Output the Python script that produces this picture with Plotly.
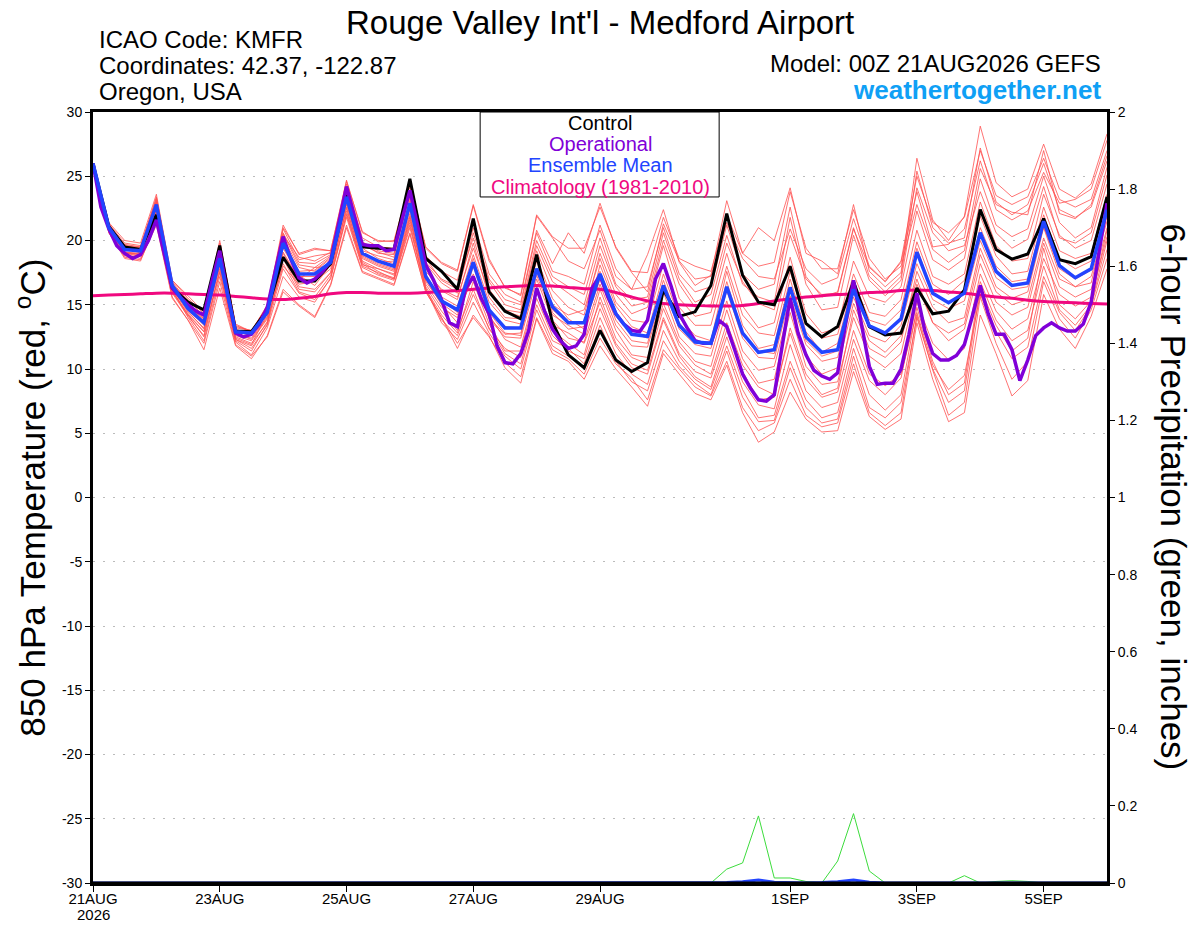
import pandas as pd
import plotly.graph_objects as go

# 6-hourly GEFS output, 21AUG2026 00Z .. 06SEP2026 00Z
times = pd.date_range("2026-08-21 00:00", periods=65, freq="6h")
# operational run is plotted every 3 hours
times_op = pd.date_range("2026-08-21 00:00", periods=129, freq="3h")

control = [
    26.0, 21.1, 19.5, 19.3, 22.0, 16.3, 15.2, 14.6,
    19.6, 12.95, 12.9, 14.6, 18.7, 16.85, 16.85, 18.2,
    23.6, 19.5, 19.4, 19.3, 24.8, 18.6, 17.6, 16.2,
    21.7, 16.0, 14.5, 13.9, 18.9, 13.6, 11.1, 10.1,
    13.0, 10.7, 9.8, 10.5, 16.15, 14.1, 14.45, 16.5,
    22.1, 17.3, 15.2, 15.0, 18.0, 13.55, 12.5, 13.3,
    16.8, 13.3, 12.65, 12.8, 16.3, 14.3, 14.5, 16.15,
    22.4, 19.3, 18.55, 18.95, 21.7, 18.5, 18.2, 18.75,
    23.4,
]

ens_mean = [
    26.0, 21.0, 19.3, 19.2, 22.8, 16.5, 14.7, 13.6,
    18.6, 12.9, 12.8, 14.4, 19.8, 17.4, 17.4, 18.3,
    23.4, 19.0, 18.4, 18.0, 22.9, 17.2, 15.3, 14.6,
    18.3, 14.6, 13.2, 13.2, 17.8, 14.85, 13.6, 13.6,
    17.4, 14.3, 12.7, 12.55, 16.5, 13.4, 12.1, 12.0,
    16.4, 12.8, 11.3, 11.5, 16.35, 12.5, 11.3, 11.5,
    16.2, 13.35, 12.8, 13.9, 19.1, 15.9, 15.15, 15.9,
    20.6, 17.6, 16.5, 16.7, 21.5, 18.05, 17.1, 17.8,
    22.4,
]

operational = [
    26.0, 22.6, 20.9, 19.6, 19.0, 18.6, 18.9, 20.0,
    21.6, 19.0, 16.3, 15.6, 15.0, 14.5, 14.2, 16.8,
    19.2, 15.8, 12.8, 12.5, 12.7, 13.5, 14.8, 17.6,
    20.3, 18.5, 17.1, 16.7, 17.0, 17.6, 18.4, 21.3,
    24.2, 21.9, 19.7, 19.6, 19.6, 19.2, 19.3, 21.6,
    23.9, 21.1, 18.1, 16.9, 15.4, 13.6, 13.3, 16.2,
    17.2, 15.5, 14.3, 11.8, 10.5, 10.4, 11.2, 13.0,
    16.3, 14.5, 13.1, 12.2, 11.6, 11.8, 12.7, 16.3,
    17.3, 15.6, 14.3, 13.5, 13.0, 12.9, 13.8, 17.0,
    18.2, 16.4, 14.3, 13.2, 12.2, 12.0, 12.0, 13.8,
    13.3, 11.5, 9.6, 8.5, 7.6, 7.5, 8.0, 11.8,
    15.5, 12.8, 11.1, 9.9, 9.45, 9.2, 9.7, 13.5,
    16.9, 13.5, 10.2, 8.8, 8.9, 8.9, 10.0, 12.7,
    15.9, 13.0, 11.2, 10.7, 10.7, 11.05, 11.9, 14.1,
    16.5, 14.3, 12.7, 12.7, 11.5, 9.1, 10.7, 12.6,
    13.2, 13.6, 13.2, 12.95, 12.95, 13.5, 15.2, 19.1,
    22.9,
]

climatology = [
    15.7, 15.75, 15.8, 15.85, 15.9, 15.9, 15.85, 15.8,
    15.75, 15.65, 15.55, 15.45, 15.4, 15.5, 15.65, 15.85,
    15.95, 15.95, 15.9, 15.9, 15.9, 15.95, 16.05, 16.1,
    16.2, 16.3, 16.4, 16.45, 16.5, 16.45, 16.35, 16.25,
    16.2, 15.95, 15.6, 15.3, 15.1, 15.0, 14.95, 14.9,
    14.9, 14.95, 15.1, 15.3, 15.45, 15.6, 15.7, 15.8,
    15.85, 15.95, 16.0, 16.1, 16.15, 16.1, 16.0, 15.9,
    15.75, 15.6, 15.5, 15.35, 15.25, 15.2, 15.15, 15.1,
    15.05,
]

members = [
    [26.0, 21.3, 19.8, 19.6, 23.2, 16.8, 15.2, 14.0, 19.6, 13.3, 13.0, 14.8, 20.9, 18.5, 18.8, 19.0,
     24.4, 20.2, 19.5, 19.4, 24.2, 18.8, 17.6, 16.9, 21.5, 17.4, 15.8, 15.2, 20.8, 18.2, 20.6, 19.0,
     22.9, 19.4, 17.5, 16.0, 21.3, 18.4, 17.0, 17.2, 21.4, 18.6, 17.2, 17.0, 20.9, 17.8, 16.6, 17.1,
     21.7, 18.0, 16.8, 18.3, 23.8, 19.5, 19.7, 20.9, 26.2, 22.4, 21.6, 22.3, 25.3, 22.9, 23.2, 24.0, 27.8],
    [26.0, 20.8, 18.9, 18.6, 22.0, 15.9, 14.1, 12.6, 17.8, 12.2, 11.4, 13.5, 18.6, 16.2, 16.0, 17.5,
     22.6, 18.3, 17.6, 17.0, 21.8, 16.4, 14.5, 13.0, 16.2, 13.1, 11.6, 10.9, 15.5, 12.6, 11.4, 10.8,
     14.7, 11.8, 10.1, 9.6, 13.8, 11.0, 9.4, 8.6, 12.5, 9.0, 7.2, 6.9, 11.9, 8.3, 7.0, 7.4,
     12.3, 9.1, 8.0, 9.3, 15.2, 12.0, 10.7, 11.6, 17.4, 14.5, 13.1, 13.9, 18.6, 15.8, 14.9, 15.6, 20.3],
    [26.0, 21.1, 19.4, 19.1, 23.0, 16.2, 14.4, 13.2, 18.9, 12.7, 12.4, 14.1, 20.2, 17.9, 17.6, 18.6,
     23.8, 19.4, 18.6, 18.2, 23.3, 17.8, 16.1, 15.4, 19.8, 15.6, 14.0, 13.9, 19.2, 16.1, 14.8, 14.2,
     19.0, 15.8, 14.3, 14.8, 19.6, 15.5, 14.1, 14.4, 19.0, 14.9, 13.2, 13.6, 18.7, 14.3, 12.8, 13.2,
     18.4, 15.6, 15.2, 16.4, 22.3, 18.5, 17.7, 18.6, 24.8, 21.2, 20.3, 20.9, 25.0, 21.4, 20.2, 21.0, 25.7],
    [26.0, 20.9, 19.0, 19.0, 22.4, 16.6, 14.9, 13.9, 18.3, 13.0, 12.9, 14.6, 19.1, 17.0, 17.9, 18.0,
     22.8, 18.6, 18.0, 17.6, 22.1, 16.6, 14.8, 14.0, 17.4, 13.9, 12.5, 12.4, 17.0, 13.8, 12.4, 12.1,
     16.2, 13.0, 11.1, 10.9, 15.1, 12.1, 10.6, 10.2, 14.6, 10.8, 8.9, 9.2, 14.4, 10.2, 8.8, 9.0,
     14.0, 11.0, 10.1, 11.2, 16.6, 13.6, 12.8, 13.5, 18.9, 16.0, 15.0, 15.4, 20.2, 17.0, 16.4, 17.2, 21.5],
    [26.0, 20.6, 18.6, 18.4, 21.4, 15.6, 13.8, 11.5, 16.3, 11.8, 10.8, 12.6, 16.2, 15.0, 14.1, 16.6,
     21.2, 17.6, 17.1, 16.6, 20.6, 16.0, 14.0, 11.6, 14.2, 12.6, 10.1, 8.9, 13.9, 11.2, 10.6, 9.2,
     11.8, 10.0, 8.6, 7.1, 11.2, 9.6, 8.1, 7.6, 10.3, 6.6, 4.3, 5.1, 8.2, 6.1, 5.1, 5.2,
     9.8, 6.3, 5.3, 6.1, 13.6, 9.2, 5.9, 6.6, 14.2, 11.2, 7.9, 9.1, 15.8, 13.1, 11.6, 14.1, 17.8],
    [26.0, 21.4, 20.0, 19.8, 23.6, 16.9, 15.7, 14.4, 20.0, 13.4, 12.9, 15.0, 21.2, 18.9, 19.3, 19.2,
     24.7, 20.6, 20.0, 19.9, 24.4, 19.4, 18.2, 17.6, 22.7, 18.4, 16.4, 15.7, 21.9, 20.2, 18.4, 17.8,
     20.8, 17.2, 16.2, 18.9, 22.4, 18.3, 16.5, 17.3, 23.1, 19.0, 21.0, 20.0, 24.1, 19.0, 18.4, 17.4,
     22.8, 17.6, 16.4, 17.5, 26.4, 21.6, 20.0, 21.9, 28.9, 24.5, 23.4, 24.0, 27.5, 24.0, 23.3, 24.4, 28.3],
    [26.0, 21.0, 19.2, 19.3, 22.6, 16.4, 14.6, 13.4, 18.0, 12.6, 12.2, 13.9, 18.0, 16.6, 16.8, 17.8,
     22.3, 18.1, 17.8, 17.3, 21.6, 16.9, 15.6, 14.9, 18.9, 15.2, 13.8, 13.5, 18.6, 15.5, 13.9, 13.1,
     18.1, 14.9, 13.3, 12.8, 17.4, 14.0, 12.6, 12.2, 17.6, 13.4, 11.6, 11.9, 17.0, 12.9, 11.3, 12.0,
     16.9, 13.8, 13.4, 14.6, 19.9, 16.6, 15.8, 16.9, 21.9, 18.8, 17.4, 17.6, 22.6, 19.2, 18.6, 19.0, 23.6],
    [26.0, 21.2, 19.5, 19.0, 22.9, 16.0, 14.3, 12.9, 18.6, 12.4, 11.9, 14.3, 19.4, 17.3, 16.5, 18.1,
     23.1, 19.0, 18.3, 18.4, 22.8, 17.0, 15.0, 13.6, 18.0, 14.2, 12.3, 11.7, 16.4, 13.0, 12.0, 11.1,
     15.6, 12.4, 10.9, 10.4, 14.7, 11.8, 10.3, 9.6, 13.6, 10.3, 8.6, 8.0, 12.8, 9.2, 7.8, 8.2,
     13.0, 9.6, 8.7, 9.6, 14.4, 10.3, 8.4, 9.5, 15.8, 12.9, 10.8, 11.7, 17.2, 14.4, 13.0, 14.9, 19.3],
    [26.0, 21.2, 19.6, 19.4, 23.4, 16.7, 15.0, 14.2, 19.0, 13.1, 12.7, 14.4, 20.5, 18.1, 17.9, 18.8,
     24.1, 19.6, 19.1, 18.7, 23.7, 18.2, 16.7, 15.9, 20.6, 16.8, 15.0, 14.6, 20.0, 17.2, 16.4, 15.8,
     20.2, 16.6, 15.4, 15.6, 20.6, 17.0, 15.2, 15.8, 20.4, 16.6, 15.6, 15.2, 21.8, 16.6, 14.6, 14.8,
     20.4, 16.9, 15.7, 16.9, 24.1, 20.6, 19.2, 19.6, 23.8, 20.6, 19.4, 20.1, 24.2, 20.2, 19.8, 20.6, 25.1],
    [26.0, 20.7, 18.8, 18.8, 21.8, 16.2, 14.0, 12.2, 17.2, 12.1, 11.1, 13.2, 17.2, 15.6, 15.2, 17.1,
     21.8, 17.9, 17.3, 16.9, 21.0, 16.2, 13.6, 12.3, 15.2, 12.8, 11.0, 10.0, 14.6, 11.8, 11.0, 10.0,
     13.4, 10.6, 9.0, 8.3, 12.2, 10.2, 8.9, 8.0, 11.4, 7.8, 5.9, 6.0, 10.1, 7.0, 5.8, 6.1,
     11.0, 7.0, 6.2, 7.4, 14.0, 10.0, 7.4, 8.3, 16.3, 13.4, 11.4, 12.4, 19.4, 15.0, 13.9, 15.3, 20.8],
    [26.0, 21.0, 19.1, 18.9, 22.7, 16.5, 14.8, 13.7, 18.4, 12.9, 12.6, 14.3, 19.6, 17.2, 17.2, 18.4,
     23.2, 18.8, 18.2, 17.8, 22.6, 17.4, 15.3, 14.5, 18.6, 14.6, 13.3, 13.2, 17.6, 14.4, 13.1, 13.3,
     17.0, 13.8, 12.2, 12.0, 16.4, 13.1, 11.9, 11.6, 16.1, 12.4, 10.9, 10.8, 15.7, 11.9, 10.6, 10.9,
     15.6, 12.6, 12.1, 13.4, 18.2, 15.4, 14.7, 15.3, 20.0, 17.1, 16.2, 16.4, 21.1, 17.8, 17.0, 17.7, 22.3],
    [26.0, 21.1, 19.7, 19.5, 23.0, 16.6, 15.4, 14.1, 19.3, 13.2, 13.0, 14.9, 20.4, 18.7, 18.4, 19.1,
     24.0, 19.9, 19.2, 19.0, 23.6, 18.3, 17.0, 16.4, 20.2, 16.2, 14.6, 14.4, 19.6, 16.8, 15.9, 15.0,
     19.6, 16.4, 14.9, 15.2, 20.0, 16.6, 14.8, 15.0, 19.8, 16.8, 15.1, 14.6, 20.4, 17.0, 15.8, 15.9,
     20.9, 17.9, 16.8, 18.4, 25.0, 21.4, 20.6, 21.8, 27.0, 23.5, 22.8, 23.4, 26.4, 23.2, 22.6, 23.2, 27.0],
    [26.0, 20.8, 19.0, 18.9, 22.2, 16.1, 14.2, 12.9, 17.5, 12.3, 11.8, 13.7, 18.2, 16.0, 15.6, 17.3,
     22.0, 18.0, 17.5, 17.1, 21.4, 16.2, 14.2, 12.8, 16.8, 13.5, 11.4, 11.4, 16.0, 13.4, 12.8, 12.0,
     15.2, 12.0, 10.4, 9.9, 14.0, 11.2, 9.8, 9.3, 13.0, 9.8, 7.6, 7.8, 13.2, 9.6, 8.0, 8.5,
     14.6, 11.6, 10.9, 12.1, 17.6, 14.8, 13.6, 14.0, 19.4, 16.4, 15.5, 16.0, 21.0, 17.4, 16.4, 16.7, 21.9],
    [26.0, 21.3, 19.6, 19.5, 23.3, 16.9, 15.5, 14.3, 19.8, 13.5, 12.9, 14.9, 21.0, 19.0, 19.4, 19.2,
     24.6, 20.7, 19.9, 20.0, 24.5, 19.5, 18.3, 17.7, 22.8, 18.6, 16.3, 15.8, 22.0, 20.3, 19.4, 19.4,
     22.6, 19.5, 17.6, 17.5, 21.8, 18.6, 18.0, 17.6, 22.0, 19.0, 18.0, 18.3, 23.8, 19.4, 17.8, 17.8,
     22.4, 18.6, 17.0, 18.0, 22.8, 19.3, 18.3, 19.2, 25.6, 22.8, 22.2, 22.0, 27.0, 22.1, 21.7, 22.8, 26.6],
    [26.0, 20.9, 19.3, 19.2, 22.5, 16.3, 14.5, 13.1, 18.1, 12.5, 12.0, 13.6, 18.8, 16.4, 16.2, 17.5,
     22.5, 18.4, 17.8, 17.4, 21.9, 16.8, 15.1, 14.2, 17.2, 14.0, 12.7, 12.8, 17.3, 14.2, 13.4, 12.7,
     16.6, 13.4, 11.8, 11.7, 16.0, 12.5, 11.2, 11.0, 15.3, 11.4, 9.9, 10.2, 15.0, 11.0, 9.6, 10.1,
     15.1, 12.2, 11.3, 12.6, 17.0, 13.6, 12.2, 13.1, 18.2, 15.2, 14.2, 14.8, 19.8, 16.4, 15.6, 16.2, 21.0],
    [26.0, 20.6, 18.7, 18.5, 21.2, 15.5, 13.8, 12.0, 16.8, 11.9, 11.0, 12.5, 16.0, 14.9, 14.0, 16.5,
     21.0, 17.5, 17.0, 16.5, 20.5, 16.0, 14.0, 12.0, 14.0, 12.5, 10.5, 9.4, 14.0, 11.5, 10.8, 9.6,
     12.4, 10.4, 9.3, 7.6, 11.5, 10.0, 8.6, 7.9, 10.6, 7.0, 5.2, 5.8, 9.2, 6.4, 5.5, 5.8,
     10.4, 6.6, 5.6, 6.6, 14.2, 9.9, 6.4, 7.4, 15.6, 12.0, 9.2, 10.6, 16.8, 13.9, 12.4, 14.6, 18.6],
    [26.0, 21.1, 19.4, 19.3, 22.9, 16.5, 14.9, 13.8, 18.8, 13.0, 12.8, 14.7, 20.0, 17.6, 17.7, 18.7,
     23.6, 19.2, 18.8, 18.5, 23.1, 17.6, 16.2, 15.6, 19.4, 16.0, 14.5, 14.1, 18.4, 15.0, 14.2, 14.6,
     18.6, 15.2, 13.8, 13.6, 18.2, 14.8, 13.4, 13.4, 18.0, 14.2, 12.8, 12.6, 17.6, 13.6, 12.4, 12.7,
     17.4, 14.4, 14.1, 15.4, 20.8, 17.2, 16.6, 17.4, 23.0, 19.6, 18.4, 18.6, 23.6, 20.4, 19.4, 20.0, 24.4],
    [26.0, 20.9, 19.0, 18.8, 22.3, 16.0, 14.2, 12.5, 17.6, 12.3, 11.6, 13.4, 17.8, 15.9, 15.4, 17.0,
     22.1, 18.2, 17.4, 17.0, 21.2, 16.3, 13.8, 12.6, 15.8, 13.2, 11.2, 10.4, 15.0, 12.2, 11.6, 10.4,
     14.0, 11.2, 9.6, 8.8, 13.0, 10.6, 9.2, 8.4, 11.8, 8.4, 6.2, 6.4, 10.6, 7.6, 6.2, 6.6,
     11.6, 8.0, 6.8, 8.0, 14.8, 10.6, 8.0, 8.9, 16.8, 13.8, 12.2, 13.0, 18.0, 14.6, 13.4, 15.0, 20.0],
    [26.0, 21.2, 19.5, 19.4, 23.1, 16.6, 15.0, 13.9, 19.2, 13.0, 12.9, 14.6, 20.6, 18.3, 18.2, 18.9,
     24.2, 19.8, 19.0, 18.9, 23.9, 18.6, 16.9, 16.2, 21.0, 17.0, 15.4, 15.0, 20.6, 17.6, 17.2, 16.6,
     21.2, 17.8, 16.2, 16.4, 21.0, 17.4, 16.0, 16.4, 21.2, 17.4, 16.2, 16.6, 22.6, 17.2, 15.6, 16.0,
     21.0, 17.2, 16.0, 17.2, 25.4, 21.0, 19.8, 20.2, 27.2, 23.0, 22.0, 22.8, 26.0, 22.4, 21.8, 22.6, 26.2],
    [26.0, 20.8, 19.1, 19.0, 22.4, 16.4, 14.6, 13.5, 18.2, 12.8, 12.3, 14.0, 19.0, 16.9, 16.9, 18.2,
     22.9, 18.7, 18.1, 17.7, 22.4, 17.2, 15.4, 14.4, 18.2, 14.4, 12.8, 12.6, 17.8, 14.6, 13.6, 13.6,
     17.6, 14.4, 12.8, 12.4, 16.9, 13.6, 12.2, 12.0, 16.8, 12.9, 11.4, 11.2, 16.2, 12.2, 11.0, 11.4,
     16.3, 13.2, 12.7, 13.9, 19.4, 16.0, 15.2, 16.0, 21.0, 18.0, 16.8, 17.0, 22.0, 18.6, 17.8, 18.4, 23.0],
]

# 6-hour precipitation (inches)
precip_member = [0.0] * 40 + [
    0.036, 0.052, 0.174, 0.013, 0.013, 0.004, 0.0, 0.057,
    0.18, 0.031, 0.0, 0.0, 0.0, 0.0, 0.0, 0.019,
    0.0, 0.004, 0.006, 0.004, 0.0, 0.0, 0.0, 0.0, 0.0,
]
precip_mean = [0.0] * 40 + [
    0.001, 0.003, 0.008, 0.002, 0.001, 0.0, 0.001, 0.003,
    0.008, 0.002, 0.0, 0.0, 0.0, 0.0, 0.0, 0.0,
    0.0, 0.0, 0.0, 0.0, 0.0, 0.0, 0.0, 0.0, 0.0,
]
precip_control = [0.0] * 65

tick_dates = ["2026-08-21", "2026-08-23", "2026-08-25", "2026-08-27", "2026-08-29",
              "2026-09-01", "2026-09-03", "2026-09-05"]
tick_text = ["21AUG", "23AUG", "25AUG", "27AUG", "29AUG", "1SEP", "3SEP", "5SEP"]
temp_ticks = [-30, -25, -20, -15, -10, -5, 0, 5, 10, 15, 20, 25, 30]
temp_labels = ["-30", "-25", "-20", "-15", "-10", "-5", "0", "5", "10", "15", "20", "25", "30"]
precip_ticks = [0, 0.2, 0.4, 0.6, 0.8, 1.0, 1.2, 1.4, 1.6, 1.8, 2.0]
precip_labels = ["0", "0.2", "0.4", "0.6", "0.8", "1", "1.2", "1.4", "1.6", "1.8", "2"]

FONT = "Liberation Sans, Arial, Helvetica, sans-serif"

fig = go.Figure()

for m in members:
    fig.add_trace(go.Scatter(x=times, y=m, mode="lines",
                             line=dict(color="rgb(255,80,80)", width=0.8)))

fig.add_trace(go.Scatter(x=times, y=precip_member, yaxis="y2", mode="lines",
                         line=dict(color="rgb(60,220,60)", width=1)))
fig.add_trace(go.Scatter(x=times, y=precip_mean, yaxis="y2", mode="lines",
                         line=dict(color="#2244ff", width=3)))
fig.add_trace(go.Scatter(x=times, y=precip_control, yaxis="y2", mode="lines",
                         line=dict(color="black", width=3)))

fig.add_trace(go.Scatter(x=times, y=climatology, mode="lines",
                         line=dict(color="#f0087f", width=3, shape="spline")))
fig.add_trace(go.Scatter(x=times, y=control, mode="lines",
                         line=dict(color="black", width=3)))
fig.add_trace(go.Scatter(x=times_op, y=operational, mode="lines",
                         line=dict(color="#8000d8", width=3.5)))
fig.add_trace(go.Scatter(x=times, y=ens_mean, mode="lines",
                         line=dict(color="#2244ff", width=3.5)))

# the page body adds an 8px offset, margins compensate so the plot sits at 93..1107 / 112..883
fig.update_layout(
    width=1200, height=927,
    margin=dict(l=85, r=101, t=104, b=52),
    paper_bgcolor="white", plot_bgcolor="white",
    showlegend=False,
    font=dict(family=FONT, size=14, color="black"),
    xaxis=dict(
        range=[times[0], times[-1]],
        tickvals=tick_dates, ticktext=tick_text,
        ticks="outside", ticklen=6, tickwidth=1, tickcolor="black",
        ticklabelstandoff=-6,
        showgrid=False, zeroline=False, automargin=False,
        showline=True, linecolor="black", linewidth=3, mirror=True,
        tickfont=dict(size=15),
    ),
    yaxis=dict(
        range=[-30, 30], tickvals=temp_ticks, ticktext=temp_labels,
        ticks="outside", ticklen=5, tickwidth=1, tickcolor="black",
        showgrid=True, gridcolor="#bbbbbb", griddash="2px,8px", gridwidth=1,
        zeroline=False, automargin=False,
        showline=True, linecolor="black", linewidth=3,
        tickfont=dict(size=14),
    ),
    yaxis2=dict(
        range=[0, 2], overlaying="y", side="right",
        tickvals=precip_ticks, ticktext=precip_labels,
        ticks="outside", ticklen=5, tickwidth=1, tickcolor="black",
        showgrid=False, zeroline=False, automargin=False,
        showline=True, linecolor="black", linewidth=3,
        tickfont=dict(size=14),
    ),
)

# year under the first date label
fig.add_annotation(text="2026", xref="x", yref="paper", x=tick_dates[0], y=-0.0405,
                   xanchor="center", yanchor="middle", showarrow=False,
                   font=dict(size=15, family=FONT))

# legend box
fig.add_shape(type="rect", xref="paper", yref="paper",
              x0=0.3818, x1=0.6175, y0=0.8898, y1=1.0,
              line=dict(color="black", width=1), fillcolor="white", layer="above")
legend_items = [("Control", "black", 0.9857),
                ("Operational", "#8000d8", 0.9585),
                ("Ensemble Mean", "#2244ff", 0.9313),
                ("Climatology (1981-2010)", "#f0087f", 0.903)]
for label, col, yy in legend_items:
    fig.add_annotation(text=label, xref="paper", yref="paper", x=0.5, y=yy,
                       xanchor="center", yanchor="middle", showarrow=False,
                       font=dict(size=20, color=col, family=FONT))

# header texts
fig.add_annotation(text="Rouge Valley Int'l - Medford Airport", xref="paper", yref="paper",
                   x=0.5, y=1.116, xanchor="center", yanchor="middle", showarrow=False,
                   font=dict(size=33, family=FONT))
for txt, yy in [("ICAO Code: KMFR", 1.0934), ("Coordinates: 42.37, -122.87", 1.0597),
                ("Oregon, USA", 1.026)]:
    fig.add_annotation(text=txt, xref="paper", yref="paper", x=0.004, y=yy,
                       xanchor="left", yanchor="middle", showarrow=False,
                       font=dict(size=24, family=FONT))
fig.add_annotation(text="Model: 00Z 21AUG2026 GEFS", xref="paper", yref="paper",
                   x=0.996, y=1.0635, xanchor="right", yanchor="middle", showarrow=False,
                   font=dict(size=24, family=FONT))
fig.add_annotation(text="<b>weathertogether.net</b>", xref="paper", yref="paper",
                   x=0.996, y=1.028, xanchor="right", yanchor="middle", showarrow=False,
                   font=dict(size=26, family=FONT, color="#0fa0f5"))

# axis titles
fig.add_annotation(text="850 hPa Temperature (red, <sup>o</sup>C)", xref="paper", yref="paper",
                   x=-0.062, y=0.5, xanchor="center", yanchor="middle", textangle=-90,
                   showarrow=False, font=dict(size=35, family=FONT))
fig.add_annotation(text="6-hour Precipitation (green, inches)", xref="paper", yref="paper",
                   x=1.066, y=0.5, xanchor="center", yanchor="middle", textangle=90,
                   showarrow=False, font=dict(size=35, family=FONT))

fig.write_html("out.html")
